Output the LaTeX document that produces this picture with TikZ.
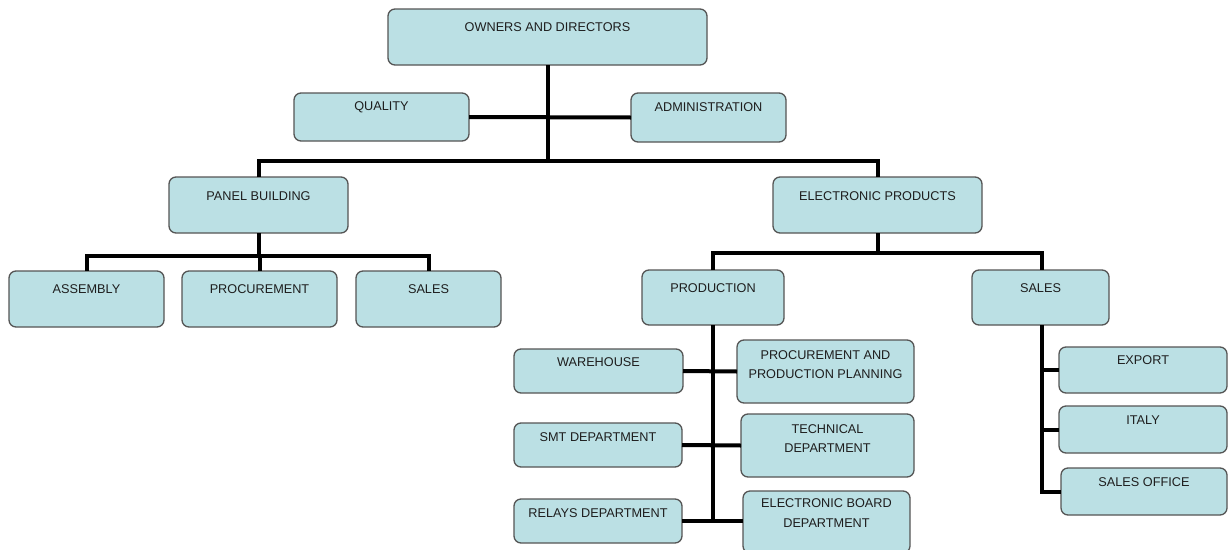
\documentclass[tikz,border=0pt]{standalone}
\usepackage{fontspec}
\setmainfont{Liberation Sans}
\definecolor{boxfill}{RGB}{187,224,228}
\definecolor{boxline}{RGB}{85,85,85}
\definecolor{txt}{RGB}{30,30,30}
\newcommand{\orgbox}[7]{%
  \node[orgnode, minimum width={(#4-#2)*1pt}, minimum height={(#5-#3)*1pt}] (#1) at ({(#2+#4)/2},{(#3+#5)/2}) {};
  \node[orglbl] (#1-t) at ({(#2+#4)/2},#6) {#7};
}
\begin{document}
\begin{tikzpicture}[x=1pt,y=-1pt,
  orgnode/.style={draw=boxline, fill=boxfill, line width=1.3pt, rounded corners=7pt, inner sep=0pt, outer sep=0pt},
  orglbl/.style={inner sep=0pt, text=txt, align=center, font=\fontsize{12.7}{19.5}\selectfont},
  conn/.style={line width=4pt, black}]
\useasboundingbox (0,0) rectangle (1228,549);
\fill[white] (0,0) rectangle (1228,549);

\orgbox{own}{388}{9}{707}{65}{27}{OWNERS AND DIRECTORS}
\orgbox{qual}{294}{93}{469}{141}{107}{QUALITY}
\orgbox{adm}{631}{93}{786}{142}{107}{ADMINISTRATION}
\orgbox{pb}{169}{177}{348}{233}{196}{PANEL BUILDING}
\orgbox{ep}{773}{177}{982}{233}{196}{ELECTRONIC PRODUCTS}
\orgbox{asm}{9}{271}{164}{327}{289}{ASSEMBLY}
\orgbox{proc}{182}{271}{337}{327}{289}{PROCUREMENT}
\orgbox{psales}{356}{271}{501}{327}{289}{SALES}
\orgbox{prod}{642}{270}{784}{325}{288}{PRODUCTION}
\orgbox{rsales}{972}{270}{1109}{325}{288}{SALES}
\orgbox{wh}{514}{349}{683}{393}{362}{WAREHOUSE}
\orgbox{ppp}{737}{340}{914}{403}{364.5}{PROCUREMENT AND\\PRODUCTION PLANNING}
\orgbox{smt}{514}{423}{682}{467}{437}{SMT DEPARTMENT}
\orgbox{tech}{741}{414}{914}{477}{438.5}{TECHNICAL\\DEPARTMENT}
\orgbox{rel}{514}{499}{682}{543}{513}{RELAYS DEPARTMENT}
\orgbox{eb}{743}{491}{910}{553}{513}{ELECTRONIC BOARD\\DEPARTMENT}
\orgbox{exp}{1059}{347}{1227}{393}{360}{EXPORT}
\orgbox{ita}{1059}{406}{1227}{453}{420}{ITALY}
\orgbox{so}{1061}{468}{1227}{515}{482}{SALES OFFICE}

\coordinate (topbar) at (0,161);
\coordinate (pbar) at (0,256);
\coordinate (ebar) at (0,253);
\coordinate (sx) at (1042,0);

\draw[conn] (own.south) -- (own.south |- topbar);
\draw[conn] (qual.east) -- (adm.west);
\draw[conn] (pb.north) -- (pb.north |- topbar) -- (ep.north |- topbar) -- (ep.north);

\draw[conn] (pb.south) -- (pb.south |- pbar);
\draw[conn] (asm.north) -- (asm.north |- pbar) -- (psales.north |- pbar) -- (psales.north);
\draw[conn] (proc.north) -- (proc.north |- pbar);

\draw[conn] (ep.south) -- (ep.south |- ebar);
\draw[conn] (prod.north) -- (prod.north |- ebar) -- (sx |- ebar) -- (sx |- rsales.north);

\draw[conn] (prod.south) -- (prod.south |- rel.east);
\draw[conn] (wh.east) -- (ppp.west);
\draw[conn] (smt.east) -- (tech.west);
\draw[conn] (rel.east) -- (rel.east -| eb.west);

\draw[conn] (sx |- rsales.south) -- (sx |- so.west) -- (so.west);
\draw[conn] (exp.west) -- (exp.west -| sx);
\draw[conn] (ita.west) -- (ita.west -| sx);
\end{tikzpicture}
\end{document}
